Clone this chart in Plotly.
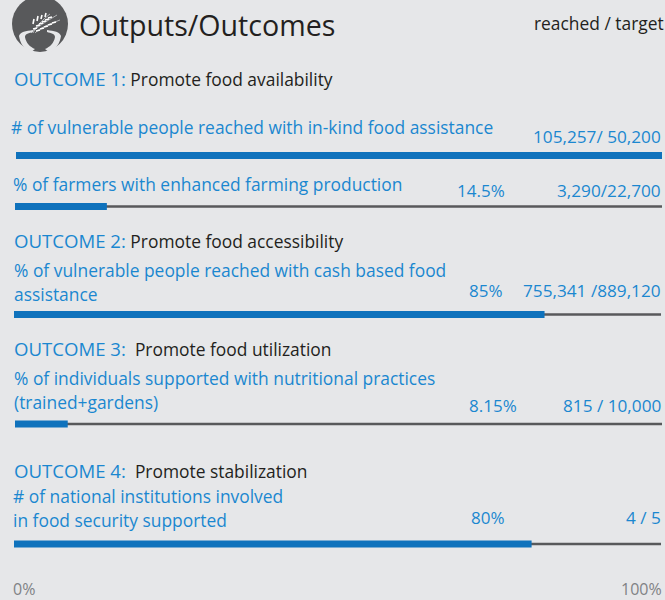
import plotly.graph_objects as go

indicators = [
    ["# of vulnerable people reached with in-kind food assistance"],
    ["% of farmers with enhanced farming production"],
    ["% of vulnerable people reached with cash based food", "assistance"],
    ["% of individuals supported with nutritional practices", "(trained+gardens)"],
    ["# of national institutions involved", "in food security supported"],
]
reached_share = [100, 14.2, 82, 8.15, 80]
track_share = [100, 100, 100, 100, 100]
pct_labels = ["", "14.5%", "85%", "8.15%", "80%"]
ratio_labels = ["105,257/ 50,200", "3,290/22,700", "755,341 /889,120", "815 / 10,000", "4 / 5"]
outcomes = ["OUTCOME 1:", "OUTCOME 2:", "OUTCOME 3:", "OUTCOME 4:"]
outcome_names = ["Promote food availability", "Promote food accessibility", "&nbsp;Promote food utilization", "&nbsp;Promote stabilization"]

BG, BLUE, BAR, GREY, INK, PALE = "#e6e7e9", "#1b87d0", "#0f72bc", "#58595b", "#231f20", "#808285"
FONT = "Open Sans"
W, H = 665, 600
row_y = [155.5, 206.5, 314.5, 424, 544]
row_left = [16, 15, 14, 15, 14]
row_right = [662, 662, 661, 662, 661]
ind_x = [9, 11, 12, 12, 11]
ind_y = [[127], [184], [270, 294], [378, 402], [496, 520]]
pct_pos = [None, (481, 190), (486, 290), (493, 405), (488, 517)]
ratio_y = [136, 190, 290, 405, 517]
out_pos = [(12, 78), (12, 241), (12, 348), (12, 470)]

fig = go.Figure()
layout_axes = {}
for i in range(5):
    name = "x" if i == 0 else f"x{i+1}"
    key = "xaxis" if i == 0 else f"xaxis{i+1}"
    fig.add_bar(y=[row_y[i]], x=[track_share[i]], xaxis=name, yaxis="y", orientation="h", width=2.4,
                marker=dict(color=GREY, line_width=0), hoverinfo="skip")
    fig.add_bar(y=[row_y[i]], x=[reached_share[i]], xaxis=name, yaxis="y", orientation="h", width=7,
                marker=dict(color=BAR, line_width=0), hoverinfo="skip")
    layout_axes[key] = dict(domain=[row_left[i]/W, row_right[i]/W], range=[0, 100], visible=False,
                            fixedrange=True, anchor="y")

def note(x, y, text, size, color, anchor="left"):
    fig.add_annotation(x=x/W, y=1-y/H, xref="paper", yref="paper", text=text, showarrow=False,
                       xanchor=anchor, yanchor="middle", align="left", font=dict(family=FONT, size=size, color=color))

note(76.5, 25, "Outputs/Outcomes", 28.6, INK)
note(666, 23, "reached / target", 17.4, INK, "right")
for (x, y), a, b in zip(out_pos, outcomes, outcome_names):
    note(x, y, f"<span style='color:{BLUE};font-size:18.6px'>{a}</span> {b}", 17.4, INK)
for x, ys, lines in zip(ind_x, ind_y, indicators):
    for y, t in zip(ys, lines):
        note(x, y, t, 17.4, BLUE)
for p, t in zip(pct_pos, pct_labels):
    if p:
        note(p[0], p[1], t, 17, BLUE, "center")
for y, t in zip(ratio_y, ratio_labels):
    note(663, y, t, 17.2, BLUE, "right")
note(11, 588.5, "0%", 16, PALE)
note(664, 588.5, "100%", 16, PALE, "right")

# icon, drawn in page pixels
def px_path(d):
    out = []
    for tok in d.split():
        if "," in tok:
            a, b = tok.split(",")
            out.append(f"{float(a)/W:.5f},{1-float(b)/H:.5f}")
        else:
            out.append(tok)
    return " ".join(out)

def icon(d, fill=None, stroke=None, lw=0):
    fig.add_shape(type="path", xref="paper", yref="paper", path=px_path(d), fillcolor=fill or "rgba(0,0,0,0)",
                  line=dict(color=stroke or "rgba(0,0,0,0)", width=lw), layer="above")

fig.add_shape(type="circle", xref="paper", yref="paper", x0=12/W, x1=68/W, y0=1-52/H, y1=1-(-4)/H, fillcolor=GREY, line_width=0, layer="below")
# bowl
icon("M 19,36 C 20,32 26,31 33,30 L 33,32 C 29,33 25,34 25,37 C 26,43 30,47 35,49 L 30,53 C 24,49 20,43 19,36 Z", fill=BG)
icon("M 61,36 C 60,32 54,31 47,30 L 47,32 C 51,33 55,34 55,37 C 54,43 50,47 45,49 L 50,53 C 56,49 60,43 61,36 Z", fill=BG)
# wheat
for stem in ["M 31,33 C 37,27 44,23 57,15", "M 35,33 C 40,28 47,25 60,20", "M 33,33 C 36,27 41,21 50,14"]:
    icon(stem, stroke="#d9dadc", lw=0.7)
for cx, cy, dx, dy in [(33, 29, 4, -1), (36, 26, 4, -1), (39, 24, 4, -1), (42, 22, 4, -1), (45, 20, 4, -1),
                       (48, 18, 4, -1), (36, 31, 4, -1), (40, 29, 4, -1), (44, 27, 4, -1), (48, 25, 4, -1),
                       (52, 23, 4, -1), (33, 24, 1, -5), (37, 21, 1, -5), (41, 19, 1, -4), (45, 17, 1, -4)]:
    icon(f"M {cx},{cy} L {cx+dx},{cy+dy}", stroke="white", lw=1.6)

fig.update_layout(width=W, height=H, margin=dict(l=0, r=0, t=0, b=0), paper_bgcolor=BG, plot_bgcolor="rgba(0,0,0,0)",
                  barmode="overlay", showlegend=False,
                  yaxis=dict(range=[H, 0], visible=False, fixedrange=True), **layout_axes)
fig.write_html("out.html", config=dict(displayModeBar=False),
               post_script="document.body.style.margin='0';document.body.style.background='#e6e7e9';")
